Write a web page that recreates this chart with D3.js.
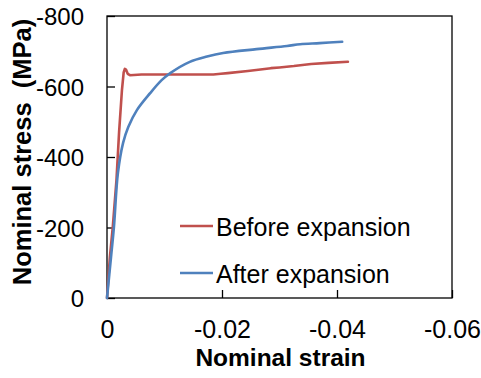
<!DOCTYPE html>
<html><head><meta charset="utf-8">
<script src="https://cdn.jsdelivr.net/npm/d3@7"></script>
<style>
html,body{margin:0;padding:0;background:#fff;}
text{font-family:"Liberation Sans",Arial,sans-serif;}
</style></head>
<body>
<svg id="chart" width="481" height="378"></svg>
<script>
// Data (strain, stress)
const beforeStrain = [0, -0.0005, -0.001, -0.00165, -0.0021, -0.0026, -0.0029, -0.0031, -0.0033, -0.0036, -0.004, -0.006, -0.010, -0.014, -0.0185, -0.0198, -0.021, -0.0245, -0.0285, -0.030, -0.0325, -0.0355, -0.0385, -0.0419];
const beforeStress = [0, -116, -200, -335, -470, -590, -640, -650, -648, -636, -632, -634, -634, -634, -634, -636, -638, -644, -652, -654, -658, -664, -667, -670];
const afterStrain = [0, -0.0007, -0.0012, -0.0019, -0.0028, -0.0037, -0.0052, -0.0075, -0.0095, -0.011, -0.0144, -0.0174, -0.0202, -0.026, -0.0313, -0.0336, -0.037, -0.0409];
const afterStress = [0, -116, -200, -355, -440, -485, -533, -581, -618, -638, -670, -685, -695, -706, -715, -720, -723, -727];
const xTicks = [0, -0.02, -0.04, -0.06];
const yTicks = [0, -200, -400, -600, -800];
const seriesNames = ["Before expansion", "After expansion"];
const seriesColors = ["#C0504D", "#4F81BD"];

const svg = d3.select("#chart");
const L = 107, R = 452, T = 16, B = 298;
const x = d3.scaleLinear().domain([0, -0.06]).range([L, R]);
const y = d3.scaleLinear().domain([0, -800]).range([B, T]);

// frame
svg.append("rect").attr("x", L).attr("y", T).attr("width", R - L).attr("height", B - T)
  .attr("fill", "none").attr("stroke", "#000").attr("stroke-width", 1.3);

const xAxis = d3.axisBottom(x).tickValues(xTicks).tickSize(-8).tickPadding(22)
  .tickFormat(d => d === 0 ? "0" : d.toFixed(2));
const gx = svg.append("g").attr("transform", `translate(0,${B})`).call(xAxis);
gx.select(".domain").remove();
gx.selectAll("line").attr("stroke", "#000").attr("stroke-width", 1.3);
gx.selectAll("text").attr("font-size", 25).attr("fill", "#000")
  .style("font-family", '"Liberation Sans",Arial,sans-serif');

const yAxis = d3.axisLeft(y).tickValues(yTicks).tickSize(-8).tickPadding(23)
  .tickFormat(d => String(d));
const gy = svg.append("g").attr("transform", `translate(${L},0)`).call(yAxis);
gy.select(".domain").remove();
gy.selectAll("line").attr("stroke", "#000").attr("stroke-width", 1.3);
gy.selectAll("text").attr("font-size", 24).attr("fill", "#000").attr("dy", "0.36em")
  .style("font-family", '"Liberation Sans",Arial,sans-serif');

// lines
const lineRed = d3.line().x(d => x(d[0])).y(d => y(d[1]));
const lineBlue = d3.line().x(d => x(d[0])).y(d => y(d[1])).curve(d3.curveCatmullRom.alpha(0.5));
const series = [
  d3.zip(beforeStrain, beforeStress),
  d3.zip(afterStrain, afterStress)
];
const gens = [lineRed, lineBlue];
series.forEach((s, i) => {
  svg.append("path").datum(s).attr("d", gens[i]).attr("fill", "none")
    .attr("stroke", seriesColors[i]).attr("stroke-width", 2.6)
    .attr("stroke-linejoin", "round").attr("stroke-linecap", "round");
});

// legend
const legY = [226, 273];
seriesNames.forEach((n, i) => {
  svg.append("line").attr("x1", 180).attr("x2", 213).attr("y1", legY[i]).attr("y2", legY[i])
    .attr("stroke", seriesColors[i]).attr("stroke-width", 2.6);
  svg.append("text").attr("x", 216).attr("y", legY[i] + 9.5).attr("font-size", 25)
    .attr("fill", "#000").text(n);
});

// axis titles
svg.append("text").attr("x", (L + R) / 2 + 1).attr("y", 366).attr("text-anchor", "middle")
  .attr("font-size", 24.5).attr("font-weight", "bold").text("Nominal strain");
svg.append("text").attr("transform", "translate(31,152) rotate(-90)")
  .attr("text-anchor", "middle").attr("font-size", 25.5).attr("font-weight", "bold")
  .style("white-space", "pre").text("Nominal stress  (MPa)");
</script>
</body></html>
